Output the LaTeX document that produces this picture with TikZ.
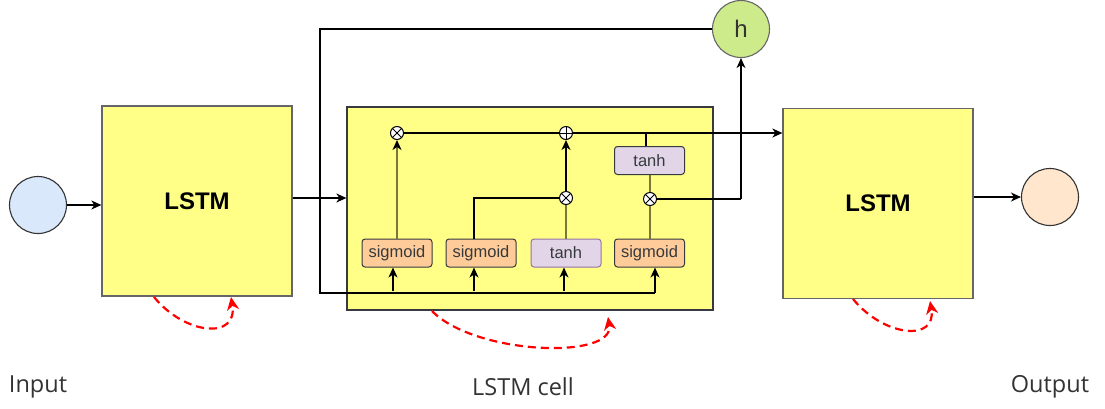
\documentclass[tikz,border=0pt]{standalone}
\usepackage{fontspec}
\setmainfont{Liberation Sans}
\newfontfamily\labelfont{Open Sans}
\usetikzlibrary{arrows.meta,calc}
\definecolor{boxyellow}{HTML}{FFFF88}
\definecolor{boxborder}{HTML}{666666}
\definecolor{sigfill}{HTML}{FFCC99}
\definecolor{darkborder}{HTML}{36393D}
\definecolor{tanhfill}{HTML}{E1D5E7}
\definecolor{tanhborder}{HTML}{9673A6}
\definecolor{infill}{HTML}{DAE8FC}
\definecolor{outfill}{HTML}{FFE6CC}
\definecolor{hfill}{HTML}{CDEB8B}
\definecolor{olive}{RGB}{120,120,60}
\definecolor{labelgray}{HTML}{333333}
\tikzset{
  bigbox/.style={draw=boxborder, fill=boxyellow, line width=1.3pt, minimum width=190pt, minimum height=190pt, inner sep=0pt, font=\fontsize{24}{28}\selectfont\bfseries},
  cellbox/.style={draw=darkborder, fill=boxyellow, line width=1.3pt, minimum width=366pt, minimum height=203pt, inner sep=0pt},
  gatebox/.style={draw=darkborder, fill=sigfill, rounded corners=3pt, line width=1pt, minimum width=70pt, minimum height=28pt, inner sep=0pt, font=\fontsize{16.5}{18}\selectfont, text=darkborder},
  tanhbox/.style={gatebox, fill=tanhfill},
  tanhboxb/.style={gatebox, fill=tanhfill, draw=tanhborder},
  iocircle/.style={circle, draw=labelgray, line width=1.1pt, minimum size=57pt, inner sep=0pt},
  mulop/.style={circle, draw=black, fill=white, minimum size=13pt, inner sep=0pt, line width=1pt,
    path picture={\draw[line width=0.9pt] (path picture bounding box.north west) -- (path picture bounding box.south east)
      (path picture bounding box.north east) -- (path picture bounding box.south west);}},
  addop/.style={circle, draw=black, fill=white, minimum size=13pt, inner sep=0pt, line width=1pt,
    path picture={\draw[line width=0.9pt] (path picture bounding box.north) -- (path picture bounding box.south)
      (path picture bounding box.east) -- (path picture bounding box.west);}},
  conn/.style={draw=black, line width=1.2pt},
  arr/.style={conn, -{Stealth[length=10pt, width=9pt, inset=3pt]}},
  oliveln/.style={draw=olive, line width=2.5pt},
  olivearr/.style={oliveln, -{Stealth[length=10pt, width=9pt, inset=3pt, color=black]}},
  recur/.style={draw=red, line width=2.2pt, dash pattern=on 8pt off 5pt, -{Stealth[length=13pt, width=12pt, inset=4pt, color=red]}},
  caption/.style={font=\labelfont\fontsize{23.5}{27}\selectfont, text=labelgray}
}
\begin{document}
\begin{tikzpicture}[x=1pt,y=-1pt]
\useasboundingbox (0,0) rectangle (1105,408);

% outer boxes and circles
\node[iocircle, fill=infill] (in) at (38,205) {};
\node[bigbox] (lstm1) at (197,201) {LSTM};
\node[cellbox] (cell) at (530,208.5) {};
\node[bigbox] (lstm2) at (878,203.5) {LSTM};
\node[iocircle, fill=outfill] (out) at (1050,197) {};
\node[circle, draw=boxborder, fill=hfill, line width=1.1pt, minimum size=57pt, inner sep=0pt, font=\fontsize{24}{28}\selectfont, text=labelgray] (h) at (741,29) {h};

% gates
\node[gatebox] (sig1) at (397,253) {sigmoid};
\node[gatebox] (sig2) at (481,253) {sigmoid};
\node[tanhboxb] (tanhB) at (566,253) {tanh};
\node[gatebox] (sig4) at (649.5,253) {sigmoid};
\node[tanhbox] (tanhT) at (649.5,160.5) {tanh};

% operators
\node[mulop] (mul1) at (397,133) {};
\node[addop] (add) at (566,133) {};
\node[mulop] (mul2) at (566,198) {};
\node[mulop] (mul3) at (650,199) {};

% coordinates
\coordinate (fbtop) at (320,29);
\coordinate (fbbot) at (320,293);
\coordinate (fbend) at (655,293);
\coordinate (hx) at (741,199);
\coordinate (tj) at (646,133);

% main connections
\draw[arr] (in.east) -- (lstm1.west |- in.east);
\draw[arr] (lstm1.east |- 0,198) -- (cell.west |- 0,198);
\draw[arr] (lstm2.east |- out.west) -- (out.west);

% feedback from h
\draw[conn] (h.west) -- (fbtop) -- (fbbot) -- (fbend);
\draw[arr] (fbend) -- (sig4.south -| fbend);
\draw[arr] (393,291) -- (sig1.south -| 393,0);
\draw[arr] (474,291) -- (sig2.south -| 474,0);
\draw[arr] (564,291) -- (tanhB.south -| 564,0);

% cell state
\draw[olivearr] (sig1.north) -- (mul1.south);
\draw[conn] (mul1.east) -- (add.west);
\draw[arr] (add.east) -- (lstm2.west |- add.east);
\draw[conn] (tj) -- (tanhT.north -| tj);

% input gate
\draw[conn] (sig2.north -| 474,0) -- (474,198) -- (mul2.west);
\draw[oliveln] (tanhB.north) -- (mul2.south);
\draw[arr] (mul2.north) -- (add.south);

% output gate
\draw[oliveln] (tanhT.south -| mul3) -- (mul3.north);
\draw[oliveln] (sig4.north -| mul3) -- (mul3.south);
\draw[conn] (mul3.east) -- (hx);
\draw[arr] (hx) -- (h.south);

% recurrence arrows
\draw[recur] (154,297) .. controls (185,335) and (238,340) .. (231,297);
\draw[recur] (432,311) .. controls (475,355) and (615,360) .. (608,317);
\draw[recur] (853,299) .. controls (884,337) and (937,342) .. (930,301);

% captions
\node[caption] (capin) at (38,387) {Input};
\node[caption] (capcell) at (523,387) {LSTM cell};
\node[caption] (capout) at (1050,387) {Output};
\end{tikzpicture}
\end{document}
